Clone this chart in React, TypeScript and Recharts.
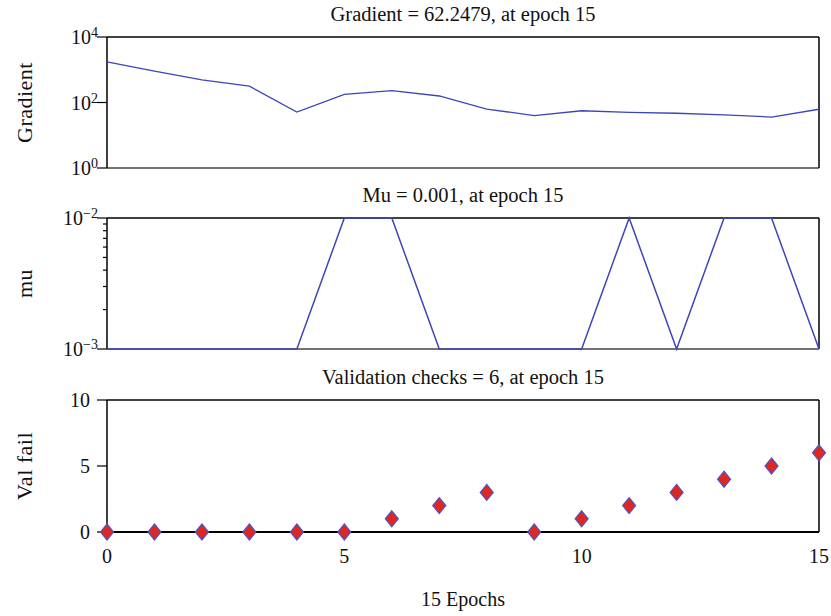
import React from 'react';
import { LineChart, Line, ScatterChart, Scatter, XAxis, YAxis } from 'recharts';

const epochs = [0, 1, 2, 3, 4, 5, 6, 7, 8, 9, 10, 11, 12, 13, 14, 15];
const gradient = [1750, 910, 490, 316, 51, 178, 229, 158, 63, 40, 56, 50, 47, 42, 36, 62.2479];
const mu = [0.001, 0.001, 0.001, 0.001, 0.001, 0.01, 0.01, 0.001, 0.001, 0.001, 0.001, 0.01, 0.001, 0.01, 0.01, 0.001];
const valFail = [0, 0, 0, 0, 0, 0, 1, 2, 3, 0, 1, 2, 3, 4, 5, 6];

const gradTicks = [1, 100, 10000];
const muTicks = [0.001, 0.002, 0.003, 0.004, 0.005, 0.006, 0.007, 0.008, 0.009, 0.01];
const valTicks = [0, 5, 10];
const epochTicks = [0, 5, 10, 15];

const gradData = epochs.map((e, i) => ({ epoch: e, value: gradient[i] }));
const muData = epochs.map((e, i) => ({ epoch: e, value: mu[i] }));
const valData = epochs.map((e, i) => ({ epoch: e, value: valFail[i] }));

const FONT = '"Liberation Serif", "Times New Roman", serif';
const LINE = '#3d45b8';
const TICK = 10;
const GAP = 7;
const frame = { stroke: '#000', strokeWidth: 1.5 };

// 10^n labels with a raised exponent, short minor ticks without labels
function PowerTick(props: any) {
  const { x, y, payload } = props;
  const lg = Math.log10(payload.value);
  const exp = Math.round(lg);
  const axisX = x + TICK + GAP;
  if (Math.abs(lg - exp) > 1e-6) {
    return <line x1={axisX - 4} x2={axisX} y1={y} y2={y} stroke="#000" strokeWidth={1.2} />;
  }
  const sup = exp < 0 ? '\u2212' + Math.abs(exp) : String(exp);
  return (
    <g>
      <line x1={axisX - TICK} x2={axisX} y1={y} y2={y} stroke="#000" strokeWidth={1.2} />
      <text x={axisX - TICK + 1} y={y + 7} textAnchor="end" fontFamily={FONT} fontSize={20} fill="#111">
        10<tspan dy={-7} fontSize={14}>{sup}</tspan>
      </text>
    </g>
  );
}

const yLabel = (text: string) => (props: any) => {
  const vb = props.viewBox || { y: 0, height: 0 };
  const cy = vb.y + vb.height / 2;
  return (
    <text x={32} y={cy} transform={`rotate(-90 32 ${cy})`} textAnchor="middle" fontFamily={FONT} fontSize={22}
      letterSpacing={0.5} fill="#111">
      {text}
    </text>
  );
};

const title = (text: string) => (props: any) => {
  const vb = props.viewBox || { x: 0, y: 0, width: 0, height: 0 };
  return (
    <text x={vb.x + vb.width / 2} y={vb.y + vb.height - 16} textAnchor="middle" fontFamily={FONT} fontSize={20.5} fill="#111">
      {text}
    </text>
  );
};

function Frame(t: string) {
  return [
    <XAxis key="top" xAxisId="top" orientation="top" type="number" dataKey="epoch" domain={[0, 15]}
      height={1} tick={false} tickLine={false} axisLine={frame} label={{ content: title(t) }} />,
    <YAxis key="right" yAxisId="right" orientation="right" type="number" domain={[0, 1]}
      width={1} tick={false} tickLine={false} axisLine={frame} />,
  ];
}

export default function App() {
  return (
    <div style={{ position: 'absolute', left: 0, top: 0, width: 831, height: 616, background: '#fff' }}>
      <LineChart width={831} height={185} data={gradData} margin={{ top: 36, right: 11, bottom: 16, left: 0 }}>
        <XAxis type="number" dataKey="epoch" domain={[0, 15]} height={1} tick={false} tickLine={false}
          axisLine={{ stroke: '#444', strokeWidth: 1.5 }} />
        <YAxis scale="log" domain={[1, 10000]} ticks={gradTicks} interval={0} width={107}
          tickSize={TICK} tickMargin={GAP} tickLine={false} axisLine={frame} tick={<PowerTick />}
          label={{ content: yLabel('Gradient') }} />
        {Frame('Gradient = 62.2479, at epoch 15')}
        <Line dataKey="value" stroke={LINE} strokeWidth={1.3} dot={false} isAnimationActive={false} zIndex={600} />
      </LineChart>
      <LineChart width={831} height={182} data={muData} margin={{ top: 32, right: 11, bottom: 17, left: 0 }}>
        <XAxis type="number" dataKey="epoch" domain={[0, 15]} height={1} tick={false} tickLine={false}
          axisLine={{ stroke: '#444', strokeWidth: 1.5 }} />
        <YAxis scale="log" domain={[0.001, 0.01]} ticks={muTicks} interval={0} width={107}
          tickSize={TICK} tickMargin={GAP} tickLine={false} axisLine={frame} tick={<PowerTick />}
          label={{ content: yLabel('mu') }} />
        {Frame('Mu = 0.001, at epoch 15')}
        <Line dataKey="value" stroke={LINE} strokeWidth={1.5} dot={false} isAnimationActive={false} zIndex={600} />
      </LineChart>
      <ScatterChart width={831} height={249} margin={{ top: 32, right: 11, bottom: 0, left: 0 }}>
        <XAxis type="number" dataKey="epoch" domain={[0, 15]} ticks={epochTicks} interval={0} height={84}
          tickSize={0} tickMargin={17} tickLine={false} axisLine={{ stroke: '#000', strokeWidth: 2.2 }}
          tick={{ fontFamily: FONT, fontSize: 20, fill: '#111' }}
          label={{
            content: (p: any) => {
              const vb = p.viewBox || { x: 0, y: 0, width: 0 };
              return (
                <text x={vb.x + vb.width / 2} y={vb.y + 74} textAnchor="middle" fontFamily={FONT} fontSize={20} fill="#111">
                  15 Epochs
                </text>
              );
            },
          }} />
        <YAxis type="number" dataKey="value" domain={[0, 10]} ticks={valTicks} interval={0} width={107}
          tickSize={TICK} tickMargin={GAP} axisLine={frame} tickLine={{ stroke: '#000', strokeWidth: 1.2 }}
          tick={{ fontFamily: FONT, fontSize: 20, fill: '#111' }}
          label={{ content: yLabel('Val fail') }} />
        {Frame('Validation checks = 6, at epoch 15')}
        <Scatter data={valData} isAnimationActive={false}
          shape={(p: any) => (
            <path d={`M${p.cx},${p.cy - 8}L${p.cx + 6.5},${p.cy}L${p.cx},${p.cy + 8}L${p.cx - 6.5},${p.cy}Z`}
              fill="#e0261f" stroke="#4b55c8" strokeWidth={1.2} />
          )} />
      </ScatterChart>
    </div>
  );
}
